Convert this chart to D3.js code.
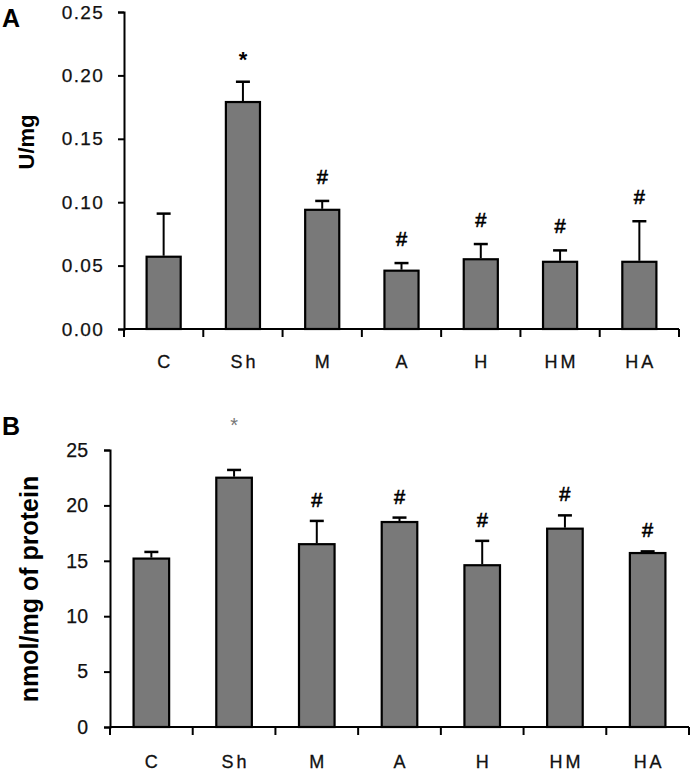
<!DOCTYPE html>
<html><head><meta charset="utf-8">
<script src="https://cdn.jsdelivr.net/npm/d3@7"></script>
<style>
body{margin:0;background:#fff;}
svg{display:block;font-family:Arial,"Liberation Sans",sans-serif;}
</style></head>
<body><svg id="c" width="693" height="771"></svg>
<script>
const categories = ["C","Sh","M","A","H","HM","HA"];
const valuesA = [0.057, 0.179, 0.094, 0.046, 0.055, 0.053, 0.053];
const errorsA = [0.034, 0.016, 0.007, 0.006, 0.012, 0.009, 0.032];
const marksA  = ["", "*", "#", "#", "#", "#", "#"];
const ticksA  = [0, 0.05, 0.10, 0.15, 0.20, 0.25];
const valuesB = [15.2, 22.5, 16.5, 18.5, 14.6, 17.9, 15.7];
const errorsB = [0.6, 0.7, 2.1, 0.4, 2.2, 1.2, 0.15];
const marksB  = ["", "*", "#", "#", "#", "#", "#"];
const ticksB  = [0, 5, 10, 15, 20, 25];

const svg = d3.select("#c");

function panel(cfg){
  const g = svg.append("g");
  const x = d3.scaleBand().domain(categories).range([cfg.x0, cfg.x1]).padding(0);
  const y = d3.scaleLinear().domain([0, cfg.max]).range([cfg.yb, cfg.yt]);
  const bw = x.bandwidth()*0.43;

  // y axis
  const ya = g.append("g").attr("transform",`translate(${cfg.x0},0)`)
    .call(d3.axisLeft(y).tickValues(cfg.ticks).tickFormat(cfg.fmt).tickSize(6).tickPadding(cfg.tpad));
  ya.select(".domain").attr("stroke","#000").attr("stroke-width",2);
  ya.selectAll(".tick line").attr("stroke","#000").attr("stroke-width",2);
  ya.selectAll(".tick text").attr("font-size",cfg.tfs).attr("fill","#111")
    .attr("letter-spacing",cfg.tls).attr("stroke","#111").attr("stroke-width",0.25)
    .attr("font-family","Arial, 'Liberation Sans', sans-serif");

  // x axis
  const xa = g.append("g").attr("transform",`translate(0,${cfg.yb})`);
  xa.append("line").attr("x1",cfg.x0).attr("x2",cfg.x1).attr("stroke","#000").attr("stroke-width",2);
  const edges = categories.map(c=>x(c)).concat([cfg.x1]);
  xa.selectAll("line.tk").data(edges).join("line").attr("class","tk")
    .attr("x1",d=>d).attr("x2",d=>d).attr("y1",0).attr("y2",8)
    .attr("stroke","#000").attr("stroke-width",2);
  xa.selectAll("text.xl").data(categories).join("text").attr("class","xl")
    .attr("x",d=>x(d)+x.bandwidth()/2+1.5).attr("y",cfg.lblY-cfg.yb)
    .attr("text-anchor","middle").attr("font-size",18).attr("letter-spacing",3)
    .attr("stroke","#111").attr("stroke-width",0.3)
    .attr("fill","#111").text(d=>d);

  // bars
  g.selectAll("rect.bar").data(categories).join("rect").attr("class","bar")
    .attr("x",d=>x(d)+(x.bandwidth()-bw)/2)
    .attr("y",(d,i)=>y(cfg.vals[i]))
    .attr("width",bw)
    .attr("height",(d,i)=>cfg.yb-y(cfg.vals[i]))
    .attr("fill","#797979").attr("stroke","#000").attr("stroke-width",2.2);

  // error bars
  const cx = d=>x(d)+x.bandwidth()/2;
  g.selectAll("line.err").data(categories).join("line").attr("class","err")
    .attr("x1",cx).attr("x2",cx)
    .attr("y1",(d,i)=>y(cfg.vals[i])-1)
    .attr("y2",(d,i)=>y(cfg.vals[i]+cfg.errs[i]))
    .attr("stroke","#000").attr("stroke-width",2);
  g.selectAll("line.cap").data(categories).join("line").attr("class","cap")
    .attr("x1",d=>cx(d)-7).attr("x2",d=>cx(d)+7)
    .attr("y1",(d,i)=>y(cfg.vals[i]+cfg.errs[i]))
    .attr("y2",(d,i)=>y(cfg.vals[i]+cfg.errs[i]))
    .attr("stroke","#000").attr("stroke-width",2.5);

  // significance marks
  g.selectAll("text.mk").data(categories).join("text").attr("class","mk")
    .attr("x",cx)
    .attr("y",(d,i)=> y(cfg.vals[i]+cfg.errs[i]) - (cfg.marks[i]==="*" ? cfg.starOff : cfg.hashOff))
    .attr("text-anchor","middle")
    .attr("font-size",(d,i)=>cfg.marks[i]==="*"?cfg.starFs:20)
    .attr("font-weight",(d,i)=>cfg.marks[i]==="*"?cfg.starW:"normal")
    .attr("fill",(d,i)=>cfg.marks[i]==="*"?cfg.starCol:"#000")
    .attr("stroke",(d,i)=>cfg.marks[i]==="#"?"#000":"none").attr("stroke-width",0.6)
    .text((d,i)=>cfg.marks[i]);

  // y title
  g.append("text").attr("transform",`translate(${cfg.titleX},${cfg.titleY}) rotate(-90)`)
    .attr("text-anchor","middle").attr("font-weight","bold").attr("font-size",cfg.titleFs)
    .attr("fill","#000").text(cfg.title);

  // panel letter
  g.append("text").attr("x",2).attr("y",cfg.letterY).attr("font-weight","bold")
    .attr("font-size",25).attr("fill","#000").text(cfg.letter);
}

panel({x0:124, x1:679, yb:329, yt:12, max:0.25, ticks:ticksA, fmt:d3.format(".2f"),
  tpad:14, tfs:19, tls:1.3, vals:valuesA, errs:errorsA, marks:marksA, lblY:368,
  starOff:15, starFs:22, hashOff:17, starW:"bold", starCol:"#000",
  title:"U/mg", titleX:34, titleY:142, titleFs:22, letter:"A", letterY:27});

panel({x0:110, x1:689, yb:727, yt:450, max:25, ticks:ticksB, fmt:d3.format("d"),
  tpad:16, tfs:19.5, tls:0, vals:valuesB, errs:errorsB, marks:marksB, lblY:768,
  starOff:38, starFs:20, hashOff:14, starW:"normal", starCol:"#777",
  title:"nmol/mg of protein", titleX:38, titleY:589, titleFs:25, letter:"B", letterY:435});
</script></body></html>
